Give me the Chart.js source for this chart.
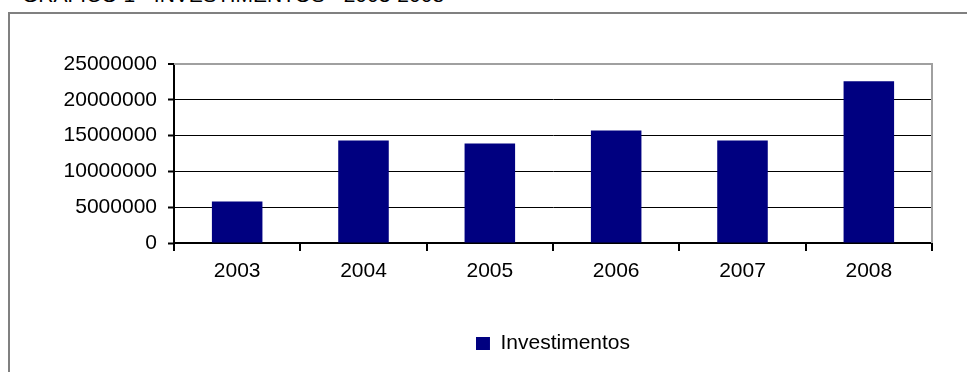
<!DOCTYPE html>
<html>
<head>
<meta charset="utf-8">
<style>
  html, body { margin: 0; padding: 0; background: #fff; overflow: hidden; }
  #wrap { position: relative; width: 967px; height: 372px; overflow: hidden; }
  #title {
    position: absolute; left: 22px; top: -16px;
    font: 21px "Liberation Sans", Arial, sans-serif; color: #000;
    white-space: nowrap; line-height: 21px;
  }
  #frame {
    position: absolute; left: 8px; top: 12px; width: 1000px; height: 400px;
    border-left: 2px solid #808080; border-top: 2px solid #808080;
  }
  #chart { position: absolute; left: 0; top: 0; }
</style>
<script src="https://cdn.jsdelivr.net/npm/chart.js@4/dist/chart.umd.min.js"></script>
</head>
<body>
<div id="wrap">
  <div id="title">GRÁFICO 1 - INVESTIMENTOS - 2003-2008</div>
  <div id="frame"></div>
  <canvas id="chart" width="967" height="372"></canvas>
</div>
<script>
// Annual investment totals
const years = ['2003', '2004', '2005', '2006', '2007', '2008'];
const investimentos = [5800000, 14300000, 13900000, 15700000, 14300000, 22600000];
const seriesLabel = 'Investimentos';
const yMax = 25000000;
const yStep = 5000000;

const FONT = { family: '"Liberation Sans", Arial, sans-serif', size: 21 };

// Grey border on the top and right side of the plot area
const plotFrame = {
  id: 'plotFrame',
  afterDatasetsDraw(chart) {
    const { ctx, chartArea: a } = chart;
    ctx.save();
    ctx.strokeStyle = '#a0a0a0';
    ctx.lineWidth = 2;
    ctx.beginPath();
    ctx.moveTo(a.left, a.top);
    ctx.lineTo(a.right, a.top);
    ctx.lineTo(a.right, a.bottom);
    ctx.stroke();
    ctx.restore();
  }
};

// Center the legend under the plot area rather than the whole canvas
const legendUnderPlot = {
  id: 'legendUnderPlot',
  afterLayout(chart) {
    const lg = chart.legend, a = chart.chartArea;
    if (lg && a) {
      lg.left = a.left;
      lg.right = a.right;
      lg.width = a.right - a.left;
    }
  }
};

new Chart(document.getElementById('chart'), {
  type: 'bar',
  data: {
    labels: years,
    datasets: [{
      label: seriesLabel,
      data: investimentos,
      backgroundColor: '#000080',
      borderWidth: 0,
      barPercentage: 0.4,
      categoryPercentage: 1.0
    }]
  },
  options: {
    responsive: false,
    animation: false,
    devicePixelRatio: 1,
    layout: { padding: { top: 64, right: 35, left: 0, bottom: 8 } },
    plugins: {
      legend: {
        position: 'bottom',
        labels: {
          font: FONT, color: '#000',
          boxWidth: 14, boxHeight: 13, padding: 10
        }
      },
      tooltip: { enabled: false },
      title: { display: false }
    },
    scales: {
      x: {
        offset: true,
        grid: {
          offset: true, drawOnChartArea: false, drawTicks: true,
          tickLength: 8, color: '#000', lineWidth: 2
        },
        border: { color: '#000', width: 2 },
        ticks: { font: FONT, color: '#000', padding: 8, maxRotation: 0 },
        afterFit(s) { s.height = 80; }
      },
      y: {
        min: 0, max: yMax,
        grid: {
          color: c => (c.tick && c.tick.value === yMax) ? '#a0a0a0' : '#000',
          lineWidth: c => (c.tick && c.tick.value === yMax) ? 2 : 1,
          tickColor: '#000', tickWidth: 2, tickLength: 6
        },
        border: { color: '#000', width: 2 },
        ticks: {
          stepSize: yStep, font: FONT, color: '#000', padding: 11,
          callback: v => String(v)
        },
        afterFit(s) { s.width = 174; }
      }
    }
  },
  plugins: [plotFrame, legendUnderPlot]
});
</script>
</body>
</html>
